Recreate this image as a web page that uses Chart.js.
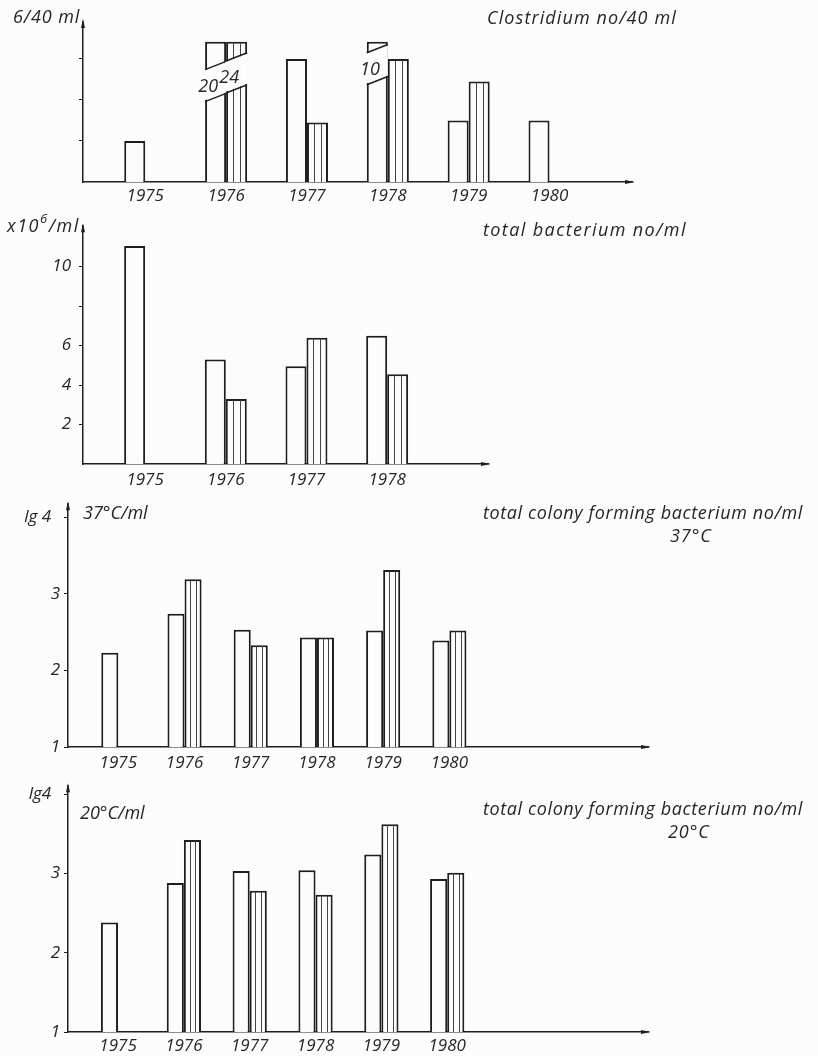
<!DOCTYPE html>
<html>
<head>
<meta charset="utf-8">
<script src="https://cdn.jsdelivr.net/npm/chart.js@4.4.1/dist/chart.umd.min.js"></script>
<style>
  body { margin: 0; background: #fcfcfc; }
  #page { position: relative; width: 818px; height: 1056px; overflow: hidden; }
  canvas { position: absolute; left: 0; }
  .lbl {
    position: absolute; white-space: nowrap; line-height: 1;
    font-family: "Open Sans", "DejaVu Sans", sans-serif; font-style: italic; font-weight: 400;
    font-size: 18px; letter-spacing: 0.9px; color: #262626; transform: translateY(-50%);
  }
  .lbl sup { font-size: 13px; position: relative; top: -2px; }
  .long { letter-spacing: 0.6px; }
  .unit { letter-spacing: 0; }
</style>
</head>
<body>
<div id="page">
  <canvas id="clostChart" width="818" height="208" style="top:0px"></canvas>
  <canvas id="bactChart" width="818" height="282" style="top:208px"></canvas>
  <canvas id="cfu37Chart" width="818" height="282" style="top:490px"></canvas>
  <canvas id="cfu20Chart" width="818" height="284" style="top:772px"></canvas>

  <div class="lbl" style="left:13px; top:16px">6/40 ml</div>
  <div class="lbl" style="left:487px; top:17px; letter-spacing:1.1px">Clostridium no/40 ml</div>
  <div class="lbl" style="left:7px; top:224px; letter-spacing:1.5px">x10<sup>6</sup>/ml</div>
  <div class="lbl" style="left:483px; top:229px; letter-spacing:1.4px">total bacterium no/ml</div>
  <div class="lbl unit" style="left:83px; top:512px">37°C/ml</div>
  <div class="lbl long" style="left:483px; top:512px">total colony forming bacterium no/ml</div>
  <div class="lbl" style="left:670px; top:535px">37°C</div>
  <div class="lbl unit" style="left:80px; top:812px">20°C/ml</div>
  <div class="lbl long" style="left:483px; top:808px">total colony forming bacterium no/ml</div>
  <div class="lbl" style="left:668px; top:831px">20°C</div>
</div>
<script>
// years on the x axis
const years = [1975, 1976, 1977, 1978, 1979, 1980];
const bactYears = [1975, 1976, 1977, 1978];

// Clostridium no/40 ml (plain bar / hatched bar); broken bars carry their real value
const clostPlain = [1, 20, 3, 10, 1.5, 1.5];
const clostHatched = [null, 24, 1.45, 3, 2.45, null];
// where the broken bars are cut (value at the left edge of the cut)
const clostCutPlain = [null, 1.96, null, 2.37, null, null];
const clostCutHatched = [null, 2.17, null, null, null, null];
const clostCap = 3.42;
const clostTicks = [1, 2, 3];
const clostTickLabels = ["", "", ""];

// total bacterium x10^6/ml
const bactPlain = [11.05, 5.3, 4.95, 6.5];
const bactHatched = [null, 3.3, 6.4, 4.55];
const bactTicks = [2, 4, 6, 8, 10];
const bactTickLabels = ["2", "4", "6", "", "10"];

// total colony forming bacterium, lg no/ml at 37 C
const cfu37Plain = [2.23, 2.74, 2.53, 2.43, 2.52, 2.39];
const cfu37Hatched = [null, 3.19, 2.33, 2.43, 3.31, 2.52];
// ... and at 20 C
const cfu20Plain = [2.38, 2.88, 3.03, 3.04, 3.24, 2.93];
const cfu20Hatched = [null, 3.42, 2.78, 2.73, 3.62, 3.01];
const cfuTicks = [1, 2, 3, 4];
const cfu37TickLabels = ["1", "2", "3", "lg 4  "];
const cfu20TickLabels = ["1", "2", "3", "lg4  "];

const INK = "#1e1e1e";
Chart.defaults.font.family = "'Open Sans', 'DejaVu Sans', sans-serif";
Chart.defaults.font.style = "italic";
Chart.defaults.font.weight = "400";
Chart.defaults.font.size = 17;
Chart.defaults.color = "#262626";

// vertical lines inside the hatched bars
const hatchPlugin = {
    id: "hatch",
    afterDatasetsDraw(chart) {
        const ctx = chart.ctx;
        const meta = chart.getDatasetMeta(1);
        const bottom = chart.chartArea.bottom;
        ctx.save();
        ctx.strokeStyle = "#444";
        ctx.lineWidth = 1;
        meta.data.forEach((bar, i) => {
            if (chart.data.datasets[1].data[i].y == null) return;
            const p = bar.getProps(["x", "y", "base", "width"], true);
            const left = p.x - p.width / 2;
            for (let k = 1; k <= 2; k++) {
                const lx = Math.round(left + (p.width * k) / 3) + 0.5;
                ctx.beginPath();
                ctx.moveTo(lx, p.y + 1);
                ctx.lineTo(lx, Math.min(p.base, bottom));
                ctx.stroke();
            }
        });
        ctx.restore();
    },
};

// small arrow heads at the ends of both axes
const arrowPlugin = {
    id: "arrows",
    afterDraw(chart) {
        const ctx = chart.ctx;
        const a = chart.chartArea;
        ctx.save();
        ctx.fillStyle = INK;
        ctx.beginPath();
        ctx.moveTo(a.left, a.top - 3);
        ctx.lineTo(a.left - 2, a.top + 6);
        ctx.lineTo(a.left + 2, a.top + 6);
        ctx.closePath();
        ctx.fill();
        ctx.beginPath();
        ctx.moveTo(a.right + 3, a.bottom);
        ctx.lineTo(a.right - 7, a.bottom - 2);
        ctx.lineTo(a.right - 7, a.bottom + 2);
        ctx.closePath();
        ctx.fill();
        ctx.restore();
    },
};

// axis-break for the Clostridium bars that run off the scale
const breakPlugin = {
    id: "breaks",
    afterDatasetsDraw(chart) {
        const ctx = chart.ctx;
        const ys = chart.scales.y;
        const gap = 0.78;
        const slant = 0.2;
        const cuts = [clostCutPlain, clostCutHatched];
        const vals = [clostPlain, clostHatched];
        ctx.save();
        [0, 1].forEach((d) => {
            chart.getDatasetMeta(d).data.forEach((bar, i) => {
                const cut = cuts[d][i];
                if (cut == null) return;
                const p = bar.getProps(["x", "width"], true);
                const l = p.x - p.width / 2;
                const r = p.x + p.width / 2;
                const lowL = ys.getPixelForValue(cut);
                const lowR = ys.getPixelForValue(cut + slant);
                const hiL = ys.getPixelForValue(cut + gap);
                const hiR = ys.getPixelForValue(cut + gap + slant);
                ctx.fillStyle = "#fcfcfc";
                ctx.beginPath();
                ctx.moveTo(l - 1, lowL - 1);
                ctx.lineTo(r, lowR - 1);
                ctx.lineTo(r, hiR + 1);
                ctx.lineTo(l - 1, hiL + 1);
                ctx.closePath();
                ctx.fill();
                ctx.strokeStyle = INK;
                ctx.lineWidth = 1.5;
                ctx.beginPath();
                ctx.moveTo(l, lowL);
                ctx.lineTo(r, lowR);
                ctx.moveTo(l, hiL);
                ctx.lineTo(r, hiR);
                ctx.stroke();
                ctx.fillStyle = "#262626";
                ctx.font = "italic 400 18px 'Open Sans', sans-serif";
                ctx.textAlign = "center";
                ctx.textBaseline = "middle";
                ctx.fillText(String(vals[d][i]), l + p.width * 0.15, lowL - 15);
            });
        });
        ctx.restore();
    },
};

function makePanel(id, o) {
    const canvas = document.getElementById(id);
    const top = parseInt(canvas.style.top, 10);
    const H = canvas.height;
    const toPoints = (vals) => o.cats.map((yr, i) => ({ x: yr, y: vals[i] == null ? null : Math.min(vals[i], o.cap || Infinity) }));
    const barStyle = {
        backgroundColor: "#fcfcfc",
        borderColor: INK,
        borderWidth: 2,
        categoryPercentage: o.catPct,
        barPercentage: 1,
    };
    return new Chart(canvas.getContext("2d"), {
        type: "bar",
        data: {
            datasets: [
                { label: "plain", data: toPoints(o.plain), ...barStyle },
                { label: "hatched", data: toPoints(o.hatched), ...barStyle },
            ],
        },
        options: {
            responsive: false,
            animation: false,
            layout: { padding: { top: o.area.top - top, right: 818 - o.area.right, left: 0, bottom: 0 } },
            plugins: { legend: { display: false }, tooltip: { enabled: false } },
            scales: {
                x: {
                    type: "linear",
                    min: o.xMin,
                    max: o.xMax,
                    offset: false,
                    grid: { display: false },
                    border: { display: true, color: INK, width: 1.5 },
                    ticks: { padding: o.xPad, callback: (v) => String(v) },
                    afterBuildTicks: (s) => { s.ticks = o.cats.map((v) => ({ value: v })); },
                    afterFit: (s) => { s.height = top + H - o.area.bottom; },
                },
                y: {
                    min: o.yMin,
                    max: o.yMax,
                    grid: { display: true, drawOnChartArea: false, drawTicks: true, tickLength: 4, color: INK, lineWidth: 1 },
                    border: { display: true, color: INK, width: 1.5 },
                    ticks: {
                        padding: o.tickPad,
                        callback: (v) => o.tickLabels[o.ticks.indexOf(v)],
                    },
                    afterBuildTicks: (s) => { s.ticks = o.ticks.map((v) => ({ value: v })); },
                    afterFit: (s) => { s.width = o.area.left; },
                },
            },
        },
        plugins: o.breaks ? [hatchPlugin, breakPlugin, arrowPlugin] : [hatchPlugin, arrowPlugin],
    });
}

makePanel("clostChart", {
    cats: years, plain: clostPlain, hatched: clostHatched, cap: clostCap, breaks: true,
    area: { left: 83, top: 22, right: 632, bottom: 182 },
    xMin: 1974.23, xMax: 1981.02, yMin: 0, yMax: 3.9, catPct: 0.52,
    ticks: clostTicks, tickLabels: clostTickLabels, tickPad: 6, xPad: -4,
});

makePanel("bactChart", {
    cats: bactYears, plain: bactPlain, hatched: bactHatched,
    area: { left: 83, top: 223, right: 488, bottom: 464 },
    xMin: 1974.23, xMax: 1979.25, yMin: 0, yMax: 12.05, catPct: 0.52,
    ticks: bactTicks, tickLabels: bactTickLabels, tickPad: 8, xPad: -2,
});

makePanel("cfu37Chart", {
    cats: years, plain: cfu37Plain, hatched: cfu37Hatched,
    area: { left: 68, top: 492, right: 648, bottom: 747 },
    xMin: 1974.24, xMax: 1983.0, yMin: 1, yMax: 4.17, catPct: 0.515,
    ticks: cfuTicks, tickLabels: cfu37TickLabels, tickPad: 4, xPad: -2,
});

makePanel("cfu20Chart", {
    cats: years, plain: cfu20Plain, hatched: cfu20Hatched,
    area: { left: 68, top: 782, right: 648, bottom: 1032 },
    xMin: 1974.24, xMax: 1983.05, yMin: 1, yMax: 4.1, catPct: 0.52,
    ticks: cfuTicks, tickLabels: cfu20TickLabels, tickPad: 4, xPad: -4,
});
</script>
</body>
</html>
